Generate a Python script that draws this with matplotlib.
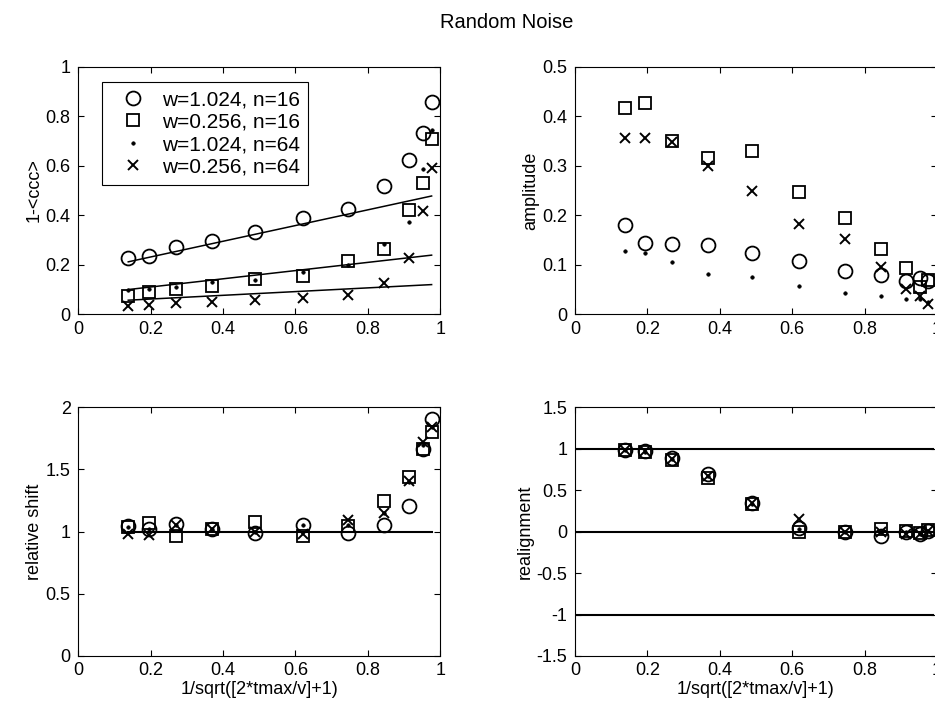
import matplotlib
matplotlib.use("Agg")
import matplotlib.pyplot as plt

plt.rcParams["font.family"] = ["Liberation Sans", "DejaVu Sans"]
plt.rcParams["font.size"] = 13

# x = 1/sqrt(2*tmax/v + 1) for each run
x = [0.138, 0.194, 0.269, 0.368, 0.488, 0.620, 0.745, 0.845, 0.913, 0.953, 0.976]

labels = ["w=1.024, n=16", "w=0.256, n=16", "w=1.024, n=64", "w=0.256, n=64"]

# 1 - <ccc>
ccc_w1024_n16 = [0.229, 0.235, 0.270, 0.297, 0.332, 0.389, 0.427, 0.518, 0.623, 0.733, 0.858]
ccc_w0256_n16 = [0.075, 0.090, 0.104, 0.113, 0.144, 0.154, 0.216, 0.263, 0.423, 0.531, 0.708]
ccc_w1024_n64 = [0.097, 0.102, 0.110, 0.130, 0.137, 0.171, 0.200, 0.285, 0.372, 0.589, 0.745]
ccc_w0256_n64 = [0.032, 0.036, 0.046, 0.051, 0.057, 0.066, 0.077, 0.127, 0.229, 0.416, 0.593]

# linear trend lines (value at first and last x)
fit_start = [0.212, 0.100, 0.057]
fit_end = [0.478, 0.239, 0.120]

# amplitude
amp_w1024_n16 = [0.180, 0.145, 0.143, 0.141, 0.124, 0.107, 0.087, 0.079, 0.068, 0.074, 0.068]
amp_w0256_n16 = [0.416, 0.427, 0.350, 0.316, 0.330, 0.248, 0.194, 0.131, 0.093, 0.056, 0.069]
amp_w1024_n64 = [0.127, 0.124, 0.105, 0.081, 0.076, 0.057, 0.043, 0.037, 0.031, 0.030, 0.024]
amp_w0256_n64 = [0.356, 0.356, 0.348, 0.300, 0.250, 0.182, 0.152, 0.096, 0.051, 0.036, 0.021]

# relative shift
shift_w1024_n16 = [1.046, 1.019, 1.060, 1.020, 0.990, 1.054, 0.987, 1.054, 1.203, 1.668, 1.906]
shift_w0256_n16 = [1.040, 1.073, 0.965, 1.020, 1.080, 0.965, 1.046, 1.249, 1.443, 1.668, 1.800]
shift_w1024_n64 = [1.040, 1.020, 1.050, 1.020, 1.000, 1.054, 1.050, 1.150, 1.400, 1.700, 1.840]
shift_w0256_n64 = [0.978, 0.970, 1.050, 1.020, 1.000, 0.980, 1.090, 1.154, 1.410, 1.720, 1.843]

# realignment
real_w1024_n16 = [0.985, 0.970, 0.890, 0.690, 0.340, 0.040, -0.010, -0.050, -0.010, -0.030, 0.010]
real_w0256_n16 = [0.980, 0.960, 0.870, 0.650, 0.330, 0.000, -0.010, 0.030, 0.010, -0.020, 0.020]
real_w1024_n64 = [0.980, 0.960, 0.880, 0.670, 0.330, 0.030, -0.010, -0.010, 0.000, -0.030, 0.010]
real_w0256_n64 = [0.990, 0.970, 0.880, 0.670, 0.340, 0.150, -0.010, -0.010, -0.030, -0.030, 0.010]

markers = [
    dict(marker="o", ms=10, mfc="none", mec="black", mew=1.3),
    dict(marker="s", ms=9, mfc="none", mec="black", mew=1.3),
    dict(marker=".", ms=5, mfc="black", mec="black", mew=0.5),
    dict(marker="x", ms=7, mfc="none", mec="black", mew=1.4),
]

fig = plt.figure(figsize=(9.35, 7.16), dpi=100)
W = 362 / 935
H = 247.5 / 716
ax_tl = fig.add_axes([78.3 / 935, 1 - 314.3 / 716, W, H])
ax_tr = fig.add_axes([575 / 935, 1 - 314.3 / 716, W, H])
ax_bl = fig.add_axes([78.3 / 935, 1 - 656 / 716, W, 248.7 / 716])
ax_br = fig.add_axes([575 / 935, 1 - 656 / 716, W, 248.7 / 716])


def style(ax, yticks, ylabels):
    ax.set_xlim(0, 1)
    ax.set_xticks([0, 0.2, 0.4, 0.6, 0.8, 1])
    ax.set_xticklabels(["0", "0.2", "0.4", "0.6", "0.8", "1"])
    ax.set_ylim(yticks[0], yticks[-1])
    ax.set_yticks(yticks)
    ax.set_yticklabels(ylabels)
    ax.tick_params(direction="in", top=True, right=True, length=4, width=0.8,
                   labelsize=13)
    ax.tick_params(axis="x", pad=4.5)
    ax.tick_params(axis="y", pad=5.5)
    for s in ax.spines.values():
        s.set_linewidth(0.8)


def scatter_all(ax, series):
    handles = []
    for ys, mk, lab in zip(series, markers, labels):
        h, = ax.plot(x, ys, linestyle="none", label=lab, **mk)
        handles.append(h)
    return handles


# top left: 1-<ccc>
handles = scatter_all(ax_tl, [ccc_w1024_n16, ccc_w0256_n16, ccc_w1024_n64, ccc_w0256_n64])
for a, b in zip(fit_start, fit_end):
    ax_tl.plot([x[0], x[-1]], [a, b], color="black", lw=1.1)
style(ax_tl, [0, 0.2, 0.4, 0.6, 0.8, 1], ["0", "0.2", "0.4", "0.6", "0.8", "1"])
ax_tl.set_ylabel("1-<ccc>", labelpad=2)
leg = ax_tl.legend(handles=handles, loc="upper left", bbox_to_anchor=(0.065, 0.94),
                   borderaxespad=0, fancybox=False, edgecolor="black", framealpha=1,
                   handlelength=2.2, handletextpad=0.25, labelspacing=0.16,
                   borderpad=0.42, fontsize=15)
leg.get_frame().set_linewidth(0.8)

# top right: amplitude
scatter_all(ax_tr, [amp_w1024_n16, amp_w0256_n16, amp_w1024_n64, amp_w0256_n64])
style(ax_tr, [0, 0.1, 0.2, 0.3, 0.4, 0.5], ["0", "0.1", "0.2", "0.3", "0.4", "0.5"])
ax_tr.set_ylabel("amplitude", labelpad=2)

# bottom left: relative shift
ax_bl.plot([x[0], x[-1]], [1, 1], color="black", lw=1.5)
scatter_all(ax_bl, [shift_w1024_n16, shift_w0256_n16, shift_w1024_n64, shift_w0256_n64])
style(ax_bl, [0, 0.5, 1, 1.5, 2], ["0", "0.5", "1", "1.5", "2"])
ax_bl.set_ylabel("relative shift", labelpad=2)
ax_bl.set_xlabel("1/sqrt([2*tmax/v]+1)", labelpad=1)

# bottom right: realignment
for level in (1, 0, -1):
    ax_br.plot([0, 0.99], [level, level], color="black", lw=1.5)
scatter_all(ax_br, [real_w1024_n16, real_w0256_n16, real_w1024_n64, real_w0256_n64])
style(ax_br, [-1.5, -1, -0.5, 0, 0.5, 1, 1.5],
      ["-1.5", "-1", "-0.5", "0", "0.5", "1", "1.5"])
ax_br.set_ylabel("realignment", labelpad=2)
ax_br.set_xlabel("1/sqrt([2*tmax/v]+1)", labelpad=1)

fig.text(0.542, 0.969, "Random Noise", ha="center", va="center", fontsize=14.5)

fig.savefig("out.png", dpi=100)
